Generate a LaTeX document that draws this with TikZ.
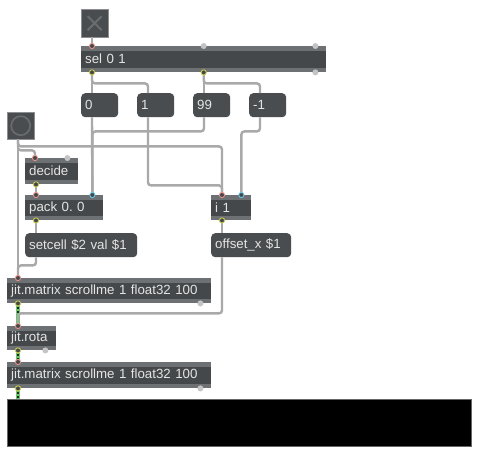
\documentclass[tikz,border=0pt]{standalone}
\usepackage{fontspec}
\usepackage{tikz}
\usetikzlibrary{calc}
\newfontfamily\maxsans{Liberation Sans}
\newcommand{\patchfont}{\maxsans\fontsize{13.3pt}{16pt}\selectfont\frenchspacing}
\definecolor{maxfill}{HTML}{45484A}
\definecolor{maxedge}{HTML}{6E7174}
\definecolor{maxmsg}{HTML}{4A4D4F}
\definecolor{maxtext}{HTML}{E4E4E4}
\definecolor{maxcord}{HTML}{A9A9A9}
\definecolor{maxgreen}{HTML}{6CC46C}
\definecolor{maxspare}{HTML}{C4C4C4}
\definecolor{maxglyph}{HTML}{6A6C6E}
\definecolor{inred}{HTML}{E8928C}
\definecolor{outyel}{HTML}{C9CC4E}
\definecolor{incyan}{HTML}{6CC8E6}
\tikzset{
  objbox/.style={rectangle,fill=maxedge,text=maxtext,font=\patchfont,
                 anchor=north west,inner xsep=4pt,inner ysep=0pt,
                 text width=#1,minimum height=25pt,align=left,
                 path picture={\fill[maxfill]
                   ([yshift=-4.5pt]path picture bounding box.north west)
                   rectangle ([yshift=4.5pt]path picture bounding box.south east);}},
  msgbox/.style={rectangle,rounded corners=4pt,fill=maxmsg,text=maxtext,
                 font=\patchfont,anchor=north west,inner xsep=4pt,
                 inner ysep=0pt,text width=#1,minimum height=24pt,align=left},
  uibox/.style={rectangle,fill=maxmsg,draw=maxedge!80,line width=0.4pt,
                anchor=north west,inner sep=0pt},
  cord/.style={draw=maxcord,line width=2.4pt,rounded corners=3pt},
  mcord/.style={draw=black!85,line width=1.1pt,dash pattern=on 2pt off 2pt,
                preaction={draw=maxgreen,line width=3.4pt}},
  inring/.style={draw=#1,line width=0.9pt,fill=maxfill},
  spare/.style={fill=maxspare}
}
\begin{document}
\begin{tikzpicture}[x=1pt,y=-1pt]
  \useasboundingbox[fill=white] (0,0) rectangle (480,456);
  % toggle, select and the four messages
  \node[uibox,minimum width=27pt,minimum height=28pt] (tgl) at (81,9) {};
  \draw[maxglyph,line width=2pt] (tgl.center) ++(-7,-7) -- ++(14,14);
  \draw[maxglyph,line width=2pt] (tgl.center) ++(7,-7) -- ++(-14,14);
  \node[objbox=237pt,minimum height=26pt] (sel) at (81,46) {sel 0 1};
  \node[msgbox=29pt] (mzero) at (81,93) {0};
  \node[msgbox=29pt] (mone) at (137,93) {1};
  \node[msgbox=29pt] (mnn) at (193,93) {99};
  \node[msgbox=29pt] (mneg) at (249,93) {-1};
  % bang button and the left column
  \node[uibox,minimum size=27pt] (btn) at (7,112) {};
  \draw[maxglyph,line width=1.6pt] (btn.center) circle[radius=9.5pt];
  \node[objbox=45pt,minimum height=26pt] (dec) at (25,158) {decide};
  \node[objbox=70pt] (pack) at (25,195) {pack 0. 0};
  \node[msgbox=104pt] (cell) at (25,233) {setcell \$2 val \$1};
  % right column
  \node[objbox=32pt] (ione) at (211,195) {i 1};
  \node[msgbox=72pt] (offs) at (211,233) {offset\_x \$1};
  % jitter chain
  \node[objbox=196pt] (mtxa) at (7,278) {jit.matrix scrollme 1 float32 100};
  \node[objbox=41pt,minimum height=24pt] (rota) at (7,326) {jit.rota};
  \node[objbox=196pt,minimum height=26pt] (mtxb) at (7,362) {jit.matrix scrollme 1 float32 100};
  \node[rectangle,fill=black,draw=black!60,line width=0.5pt,anchor=north west,
        minimum width=464pt,minimum height=47pt,inner sep=0pt] (pwin) at (7,399) {};

  % patch cords
  \draw[cord] ([xshift=11pt]tgl.south west) -- ([xshift=11pt]sel.north west);
  \draw[cord] ([xshift=11pt]sel.south west) -- ([xshift=11pt]mzero.north west);
  \draw[cord] ([xshift=11pt]sel.south west) -- ++(0,11) -| ([xshift=11pt]mone.north west);
  \draw[cord] (sel.south) -- (sel.south |- mnn.north);
  \draw[cord] (sel.south) -- ++(0,11) -| ([xshift=11pt]mneg.north west);
  \draw[cord] ([xshift=11pt]mzero.south west) -- ([xshift=-11pt]pack.north east);
  \draw[cord] ([xshift=11pt]mnn.south west) -- ++(0,14) -| ([xshift=-11pt]pack.north east);
  \draw[cord] ([xshift=11pt]mone.south west) -- ++(0,68) -| ([xshift=11pt]ione.north west);
  \draw[cord] ([xshift=11pt]mneg.south west) -- ++(0,14) -| ([xshift=-10pt]ione.north east);
  \draw[cord] ([xshift=11pt]btn.south west) -- ([xshift=11pt]mtxa.north west);
  \draw[cord] ([xshift=11pt]btn.south west) -- ++(0,7) -| ([xshift=11pt]ione.north west);
  \draw[cord] ([xshift=11pt]btn.south west) -- ++(0,11) -| ([xshift=10pt]dec.north west);
  \draw[cord] ([xshift=11pt]dec.south west) -- ([xshift=11pt]pack.north west);
  \draw[cord] ([xshift=11pt]pack.south west) -- ([xshift=11pt]cell.north west);
  \draw[cord] ([xshift=11pt]cell.south west) -- ++(0,8) -| ([xshift=11pt]mtxa.north west);
  \draw[cord] ([xshift=11pt]ione.south west) -- ([xshift=11pt]offs.north west);
  \draw[mcord] ([xshift=11pt]mtxa.south west) -- ([xshift=11pt]rota.north west);
  \draw[mcord] ([xshift=11pt]rota.south west) -- ([xshift=11pt]mtxb.north west);
  \draw[mcord] ([xshift=11pt]mtxb.south west) -- ([xshift=11pt]pwin.north west);
  \draw[cord] ([xshift=11pt]offs.south west) -- ++(0,56) -| ([xshift=11pt]rota.north west);

  % inlets and outlets
  \draw[inring=inred] ([xshift=11pt]sel.north west) circle[radius=2.6pt];
  \fill[spare] (sel.north) circle[radius=3pt];
  \fill[spare] ([xshift=-11pt]sel.north east) circle[radius=3pt];
  \draw[inring=outyel] ([xshift=11pt]sel.south west) circle[radius=2.6pt];
  \draw[inring=outyel] (sel.south) circle[radius=2.6pt];
  \fill[spare] ([xshift=-11pt]sel.south east) circle[radius=3pt];
  \draw[inring=inred] ([xshift=10pt]dec.north west) circle[radius=2.6pt];
  \fill[spare] ([xshift=-11pt]dec.north east) circle[radius=3pt];
  \draw[inring=outyel] ([xshift=11pt]dec.south west) circle[radius=2.6pt];
  \draw[inring=inred] ([xshift=11pt]pack.north west) circle[radius=2.6pt];
  \draw[inring=incyan] ([xshift=-11pt]pack.north east) circle[radius=2.6pt];
  \draw[inring=outyel] ([xshift=11pt]pack.south west) circle[radius=2.6pt];
  \draw[inring=inred] ([xshift=11pt]ione.north west) circle[radius=2.6pt];
  \draw[inring=incyan] ([xshift=-10pt]ione.north east) circle[radius=2.6pt];
  \draw[inring=outyel] ([xshift=11pt]ione.south west) circle[radius=2.6pt];
  \draw[inring=inred] ([xshift=11pt]mtxa.north west) circle[radius=2.6pt];
  \draw[inring=outyel] ([xshift=11pt]mtxa.south west) circle[radius=2.6pt];
  \fill[spare] ([xshift=-11pt]mtxa.south east) circle[radius=3pt];
  \draw[inring=inred] ([xshift=11pt]rota.north west) circle[radius=2.6pt];
  \draw[inring=outyel] ([xshift=11pt]rota.south west) circle[radius=2.6pt];
  \fill[spare] ([xshift=-11pt]rota.south east) circle[radius=3pt];
  \draw[inring=inred] ([xshift=11pt]mtxb.north west) circle[radius=2.6pt];
  \draw[inring=outyel] ([xshift=11pt]mtxb.south west) circle[radius=2.6pt];
  \fill[spare] ([xshift=-11pt]mtxb.south east) circle[radius=3pt];
\end{tikzpicture}
\end{document}
